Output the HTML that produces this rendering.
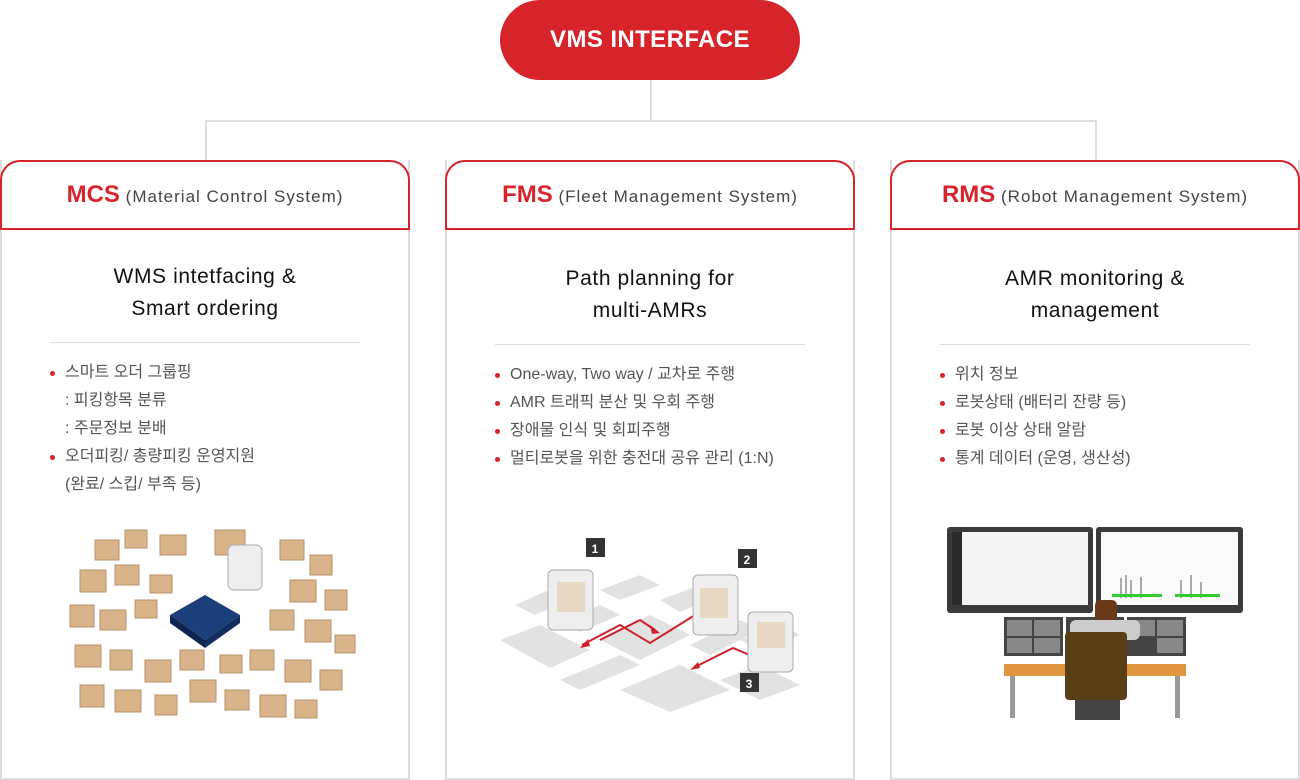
<!DOCTYPE html>
<html><head><meta charset="utf-8"><style>
*{margin:0;padding:0;box-sizing:border-box}
body{width:1300px;height:769px;background:#fff;position:relative;overflow:hidden;font-family:"Liberation Sans","Noto Sans CJK KR",sans-serif}
.abs{position:absolute}
.pill{left:500px;top:0;width:300px;height:80px;border-radius:40px;background:#d7242b;color:#fff;font-weight:bold;font-size:24px;letter-spacing:0.4px;text-align:center;line-height:80px}
.panel{top:160px;width:410px;height:620px;border:2px solid #ddd;border-top:none}
.head{top:160px;width:410px;height:70px;border:2px solid #d7242b;border-radius:20px 20px 0 0;text-align:center;line-height:66px;font-size:17px;letter-spacing:1px;color:#444;background:#fff}
.head b{color:#d7242b;font-size:24px;letter-spacing:0}
.title{width:410px;text-align:center;font-size:21px;letter-spacing:0.6px;color:#111;line-height:32px}
.hr{height:1px;background:#ddd;width:310px}
ul{list-style:none;font-size:16px;color:#555;line-height:28px}
li{position:relative;padding-left:15px}
li.b:before{content:"";position:absolute;left:0;top:12px;width:5px;height:5px;border-radius:50%;background:#d7242b}
</style></head><body>
<div class="abs pill">VMS INTERFACE</div>
<div class="abs" style="left:650px;top:80px;width:2px;height:42px;background:#ddd"></div>
<div class="abs" style="left:205px;top:120px;width:892px;height:2px;background:#ddd"></div>
<div class="abs" style="left:205px;top:120px;width:2px;height:40px;background:#ddd"></div>
<div class="abs" style="left:1095px;top:120px;width:2px;height:40px;background:#ddd"></div>

<div class="abs panel" style="left:0"></div>
<div class="abs panel" style="left:445px"></div>
<div class="abs panel" style="left:890px"></div>
<div class="abs head" style="left:0"><b>MCS</b> (Material Control System)</div>
<div class="abs head" style="left:445px"><b>FMS</b> (Fleet Management System)</div>
<div class="abs head" style="left:890px"><b>RMS</b> (Robot Management System)</div>

<div class="abs title" style="left:0;top:261px">WMS intetfacing &amp;<br>Smart ordering</div>
<div class="abs title" style="left:445px;top:263px">Path planning for<br>multi-AMRs</div>
<div class="abs title" style="left:890px;top:263px">AMR monitoring &amp;<br>management</div>
<div class="abs hr" style="left:50px;top:342px"></div>
<div class="abs hr" style="left:495px;top:344px"></div>
<div class="abs hr" style="left:940px;top:344px"></div>

<ul class="abs" style="left:50px;top:359px">
<li class="b">스마트 오더 그룹핑</li><li>: 피킹항목 분류</li><li>: 주문정보 분배</li><li class="b">오더피킹/ 총량피킹 운영지원</li><li>(완료/ 스킵/ 부족 등)</li></ul>
<ul class="abs" style="left:495px;top:361px">
<li class="b">One-way, Two way / 교차로 주행</li><li class="b">AMR 트래픽 분산 및 우회 주행</li><li class="b">장애물 인식 및 회피주행</li><li class="b">멀티로봇을 위한 충전대 공유 관리 (1:N)</li></ul>
<ul class="abs" style="left:940px;top:361px">
<li class="b">위치 정보</li><li class="b">로봇상태 (배터리 잔량 등)</li><li class="b">로봇 이상 상태 알람</li><li class="b">통계 데이터 (운영, 생산성)</li></ul>

<svg class="abs" style="left:0;top:0" width="1300" height="769">
<g fill="#d9b48a" stroke="#b8926a" stroke-width="1">
<rect x="95" y="540" width="24" height="20"/><rect x="125" y="530" width="22" height="18"/><rect x="160" y="535" width="26" height="20"/><rect x="280" y="540" width="24" height="20"/><rect x="310" y="555" width="22" height="20"/>
<rect x="80" y="570" width="26" height="22"/><rect x="115" y="565" width="24" height="20"/><rect x="150" y="575" width="22" height="18"/><rect x="290" y="580" width="26" height="22"/><rect x="325" y="590" width="22" height="20"/>
<rect x="70" y="605" width="24" height="22"/><rect x="100" y="610" width="26" height="20"/><rect x="135" y="600" width="22" height="18"/><rect x="270" y="610" width="24" height="20"/><rect x="305" y="620" width="26" height="22"/><rect x="335" y="635" width="20" height="18"/>
<rect x="75" y="645" width="26" height="22"/><rect x="110" y="650" width="22" height="20"/><rect x="145" y="660" width="26" height="22"/><rect x="250" y="650" width="24" height="20"/><rect x="285" y="660" width="26" height="22"/><rect x="320" y="670" width="22" height="20"/>
<rect x="80" y="685" width="24" height="22"/><rect x="115" y="690" width="26" height="22"/><rect x="155" y="695" width="22" height="20"/><rect x="190" y="680" width="26" height="22"/><rect x="225" y="690" width="24" height="20"/><rect x="260" y="695" width="26" height="22"/><rect x="295" y="700" width="22" height="18"/>
<rect x="215" y="530" width="30" height="25"/><rect x="180" y="650" width="24" height="20"/><rect x="220" y="655" width="22" height="18"/>
</g>
<polygon points="170,615 205,595 240,615 205,640" fill="#1a3f7a"/>
<polygon points="170,615 205,640 205,648 170,623" fill="#0d2550"/><polygon points="240,615 205,640 205,648 240,623" fill="#132f60"/>
<rect x="228" y="545" width="34" height="45" rx="6" fill="#eee" stroke="#aaa"/>
<g fill="#e2e2e2">
<polygon points="515,605 560,585 580,595 535,615"/><polygon points="500,640 540,625 590,650 550,668"/><polygon points="560,620 600,605 620,615 580,632"/>
<polygon points="600,640 650,615 690,635 640,660"/><polygon points="560,680 620,655 640,665 580,690"/><polygon points="620,690 680,665 730,690 670,712"/>
<polygon points="660,600 700,585 720,595 680,612"/><polygon points="690,645 740,620 760,630 710,655"/><polygon points="720,680 760,665 800,685 760,700"/>
<polygon points="600,590 640,575 660,585 620,600"/><polygon points="740,640 780,625 800,635 760,650"/>
</g>
<g stroke="#d01f2c" stroke-width="2" fill="none">
<polyline points="600,640 640,620 655,630"/><polyline points="695,615 650,643 620,625 582,645"/><polyline points="752,656 733,648 695,667"/>
</g>
<g fill="#d01f2c"><polygon points="660,633 650,625 652,634"/><polygon points="580,648 588,639 590,646"/><polygon points="690,670 698,662 700,668"/></g>
<g fill="#eee" stroke="#aaa"><rect x="548" y="570" width="45" height="60" rx="5"/><rect x="693" y="575" width="45" height="60" rx="5"/><rect x="748" y="612" width="45" height="60" rx="5"/></g>
<g fill="#e7d8c4"><rect x="557" y="582" width="28" height="30"/><rect x="700" y="588" width="28" height="30"/><rect x="757" y="622" width="28" height="26"/></g>
<g fill="#333"><rect x="586" y="538" width="19" height="19"/><rect x="738" y="549" width="19" height="19"/><rect x="740" y="673" width="19" height="19"/></g>
<g fill="#fff" font-size="12" font-weight="bold" text-anchor="middle" font-family="Liberation Sans"><text x="595" y="553">1</text><text x="747" y="564">2</text><text x="749" y="688">3</text></g>
<rect x="947" y="527" width="146" height="86" rx="3" fill="#3a3a3a"/><rect x="1096" y="527" width="147" height="86" rx="3" fill="#3a3a3a"/>
<rect x="952" y="532" width="10" height="73" fill="#2a2a2a"/><rect x="962" y="532" width="126" height="73" fill="#f4f4f4"/><rect x="1101" y="532" width="137" height="73" fill="#fafafa"/>
<g fill="#aaa"><rect x="1120" y="578" width="2" height="20"/><rect x="1125" y="575" width="2" height="23"/><rect x="1130" y="580" width="2" height="18"/><rect x="1140" y="577" width="2" height="21"/><rect x="1180" y="580" width="2" height="18"/><rect x="1190" y="575" width="2" height="23"/><rect x="1200" y="582" width="2" height="16"/></g>
<g fill="#3c3"><rect x="1112" y="594" width="50" height="3"/><rect x="1175" y="594" width="45" height="3"/></g>
<g fill="#444"><rect x="1004" y="617" width="59" height="39"/><rect x="1066" y="617" width="58" height="39"/><rect x="1127" y="617" width="59" height="39"/></g>
<g fill="#888"><rect x="1007" y="620" width="25" height="16"/><rect x="1034" y="620" width="26" height="16"/><rect x="1007" y="638" width="25" height="15"/><rect x="1034" y="638" width="26" height="15"/><rect x="1130" y="620" width="25" height="16"/><rect x="1157" y="620" width="26" height="16"/><rect x="1157" y="638" width="26" height="15"/></g>
<rect x="1004" y="664" width="182" height="12" fill="#e0963e"/>
<g fill="#999"><rect x="1010" y="676" width="5" height="42"/><rect x="1175" y="676" width="5" height="42"/></g>
<rect x="1095" y="600" width="22" height="22" rx="5" fill="#6b3a1a"/>
<rect x="1070" y="620" width="70" height="20" rx="6" fill="#ccc"/>
<rect x="1065" y="632" width="62" height="68" rx="4" fill="#5a3e14"/>
<rect x="1075" y="700" width="45" height="20" fill="#444"/>
</svg>
</body></html>
